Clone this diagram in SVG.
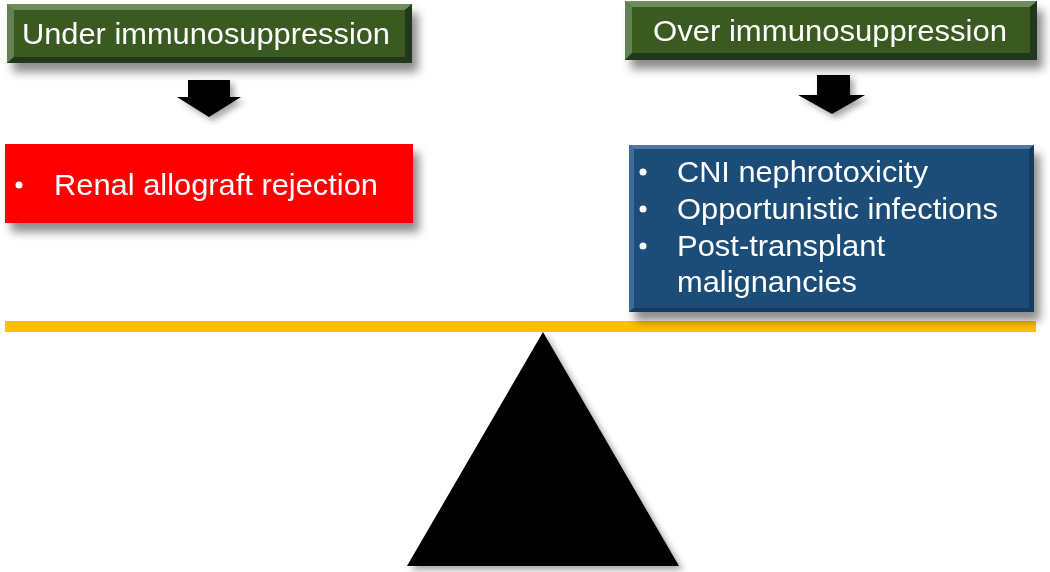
<svg xmlns="http://www.w3.org/2000/svg" width="1050" height="572" viewBox="0 0 1050 572">
<defs>
<filter id="sh" x="-10%" y="-20%" width="130%" height="160%">
<feDropShadow dx="6" dy="9" stdDeviation="5" flood-color="#000" flood-opacity="0.45"/>
</filter>
<filter id="sh2" x="-10%" y="-10%" width="130%" height="130%">
<feDropShadow dx="4" dy="4" stdDeviation="3" flood-color="#000" flood-opacity="0.35"/>
</filter>
<style>
.t{font-family:"Liberation Sans",Arial,sans-serif;fill:#fff}
.g{fill:#3b5a24}
.gl{fill:#6e8c5c}
.gd{fill:#24381a}
.bl{fill:#4f78a6}
.bd{fill:#163a5c}
</style>
</defs>
<rect width="1050" height="572" fill="#fff"/>

<g id="beam">
<rect x="5" y="321" width="1031" height="11" fill="#ffc000"/>
</g>

<g id="under-box" filter="url(#sh)">
<rect x="7" y="4" width="405" height="59" class="g"/>
<polygon points="7,4 412,4 405,10 14,10" class="gl"/>
<polygon points="7,4 14,10 14,57 7,63" class="gl" opacity="0.8"/>
<polygon points="412,4 412,63 405,57 405,10" class="gd"/>
<polygon points="7,63 412,63 405,57 14,57" class="gd"/>
<rect x="14" y="10" width="391" height="47" class="g"/>
<text x="22" y="44" class="t" font-size="30" textLength="368" lengthAdjust="spacingAndGlyphs">Under immunosuppression</text>
</g>

<g id="over-box" filter="url(#sh)">
<rect x="625" y="1" width="412" height="59" class="g"/>
<polygon points="625,1 1037,1 1030,7 632,7" class="gl"/>
<polygon points="625,1 632,7 632,53 625,60" class="gl" opacity="0.8"/>
<polygon points="1037,1 1037,60 1030,53 1030,7" class="gd"/>
<polygon points="625,60 1037,60 1030,53 632,53" class="gd"/>
<rect x="632" y="7" width="398" height="46" class="g"/>
<text x="653" y="41" class="t" font-size="30" textLength="354" lengthAdjust="spacingAndGlyphs">Over immunosuppression</text>
</g>

<g id="connectors">
<polygon points="188,80 230,80 230,97 241,97 209,117 177,97 188,97" fill="#000" filter="url(#sh2)"/>
<polygon points="817,75 850,75 850,95 865,95 832,114 798,95 817,95" fill="#000" filter="url(#sh2)"/>
</g>

<g id="rejection-box" filter="url(#sh)">
<rect x="5" y="144" width="408" height="79" fill="#ff0000"/>
<circle cx="19" cy="185" r="3.5" fill="#fff"/>
<text x="54" y="195" class="t" font-size="30" textLength="324" lengthAdjust="spacingAndGlyphs">Renal allograft rejection</text>
</g>

<g id="over-effects-box" filter="url(#sh)">
<rect x="629" y="145" width="405" height="167" fill="#1f4e79"/>
<polygon points="629,145 1034,145 1029,149 634,149" class="bl"/>
<polygon points="629,145 634,149 634,308 629,312" class="bl" opacity="0.7"/>
<polygon points="1034,145 1034,312 1029,308 1029,149" class="bd"/>
<polygon points="629,312 1034,312 1029,308 634,308" class="bd"/>
<circle cx="643" cy="172" r="3.5" fill="#fff"/>
<circle cx="643" cy="209" r="3.5" fill="#fff"/>
<circle cx="643" cy="246" r="3.5" fill="#fff"/>
<text x="677" y="182" class="t" font-size="29" textLength="251" lengthAdjust="spacingAndGlyphs">CNI nephrotoxicity</text>
<text x="677" y="219" class="t" font-size="29" textLength="321" lengthAdjust="spacingAndGlyphs">Opportunistic infections</text>
<text x="677" y="256" class="t" font-size="29" textLength="208" lengthAdjust="spacingAndGlyphs">Post-transplant</text>
<text x="677" y="292" class="t" font-size="29" textLength="180" lengthAdjust="spacingAndGlyphs">malignancies</text>
</g>

<g id="fulcrum">
<polygon points="543,332 679,566 407,566" fill="#000" filter="url(#sh2)"/>
</g>
</svg>
